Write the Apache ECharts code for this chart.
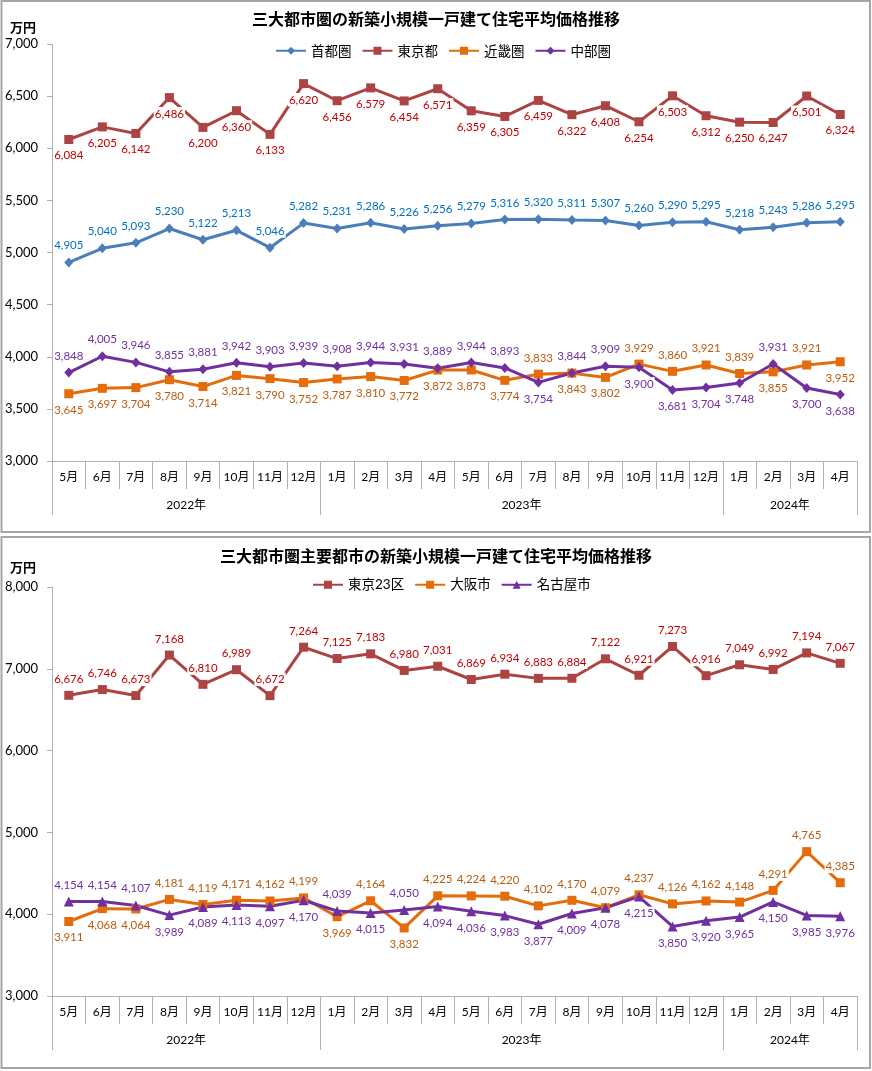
<!DOCTYPE html>
<html>
<head>
<meta charset="utf-8">
<script src="https://cdn.jsdelivr.net/npm/echarts@6/dist/echarts.min.js"></script>
<style>
html,body{margin:0;padding:0;background:#fff;}
#chart{width:872px;height:1071px;}
</style>
</head>
<body>
<div id="chart"></div>
<script>
// ---- data ----
const months = ['5月','6月','7月','8月','9月','10月','11月','12月','1月','2月','3月','4月','5月','6月','7月','8月','9月','10月','11月','12月','1月','2月','3月','4月'];
const years = ['2022年','2023年','2024年'];
const yearSpans = [8, 12, 4];

const titleTop = '三大都市圏の新築小規模一戸建て住宅平均価格推移';
const titleBottom = '三大都市圏主要都市の新築小規模一戸建て住宅平均価格推移';
const unitLabel = '万円';

const shutoken = [4905,5040,5093,5230,5122,5213,5046,5282,5231,5286,5226,5256,5279,5316,5320,5311,5307,5260,5290,5295,5218,5243,5286,5295];
const tokyoto  = [6084,6205,6142,6486,6200,6360,6133,6620,6456,6579,6454,6571,6359,6305,6459,6322,6408,6254,6503,6312,6250,6247,6501,6324];
const kinki    = [3645,3697,3704,3780,3714,3821,3790,3752,3787,3810,3772,3872,3873,3774,3833,3843,3802,3929,3860,3921,3839,3855,3921,3952];
const chubu    = [3848,4005,3946,3855,3881,3942,3903,3939,3908,3944,3931,3889,3944,3893,3754,3844,3909,3900,3681,3704,3748,3931,3700,3638];

const tokyo23  = [6676,6746,6673,7168,6810,6989,6672,7264,7125,7183,6980,7031,6869,6934,6883,6884,7122,6921,7273,6916,7049,6992,7194,7067];
const osaka    = [3911,4068,4064,4181,4119,4171,4162,4199,3969,4164,3832,4225,4224,4220,4102,4170,4079,4237,4126,4162,4148,4291,4765,4385];
const nagoya   = [4154,4154,4107,3989,4089,4113,4097,4170,4039,4015,4050,4094,4036,3983,3877,4009,4078,4215,3850,3920,3965,4150,3985,3976];

// ---- styles ----
const font = "Lato, 'Noto Sans CJK JP', sans-serif";
const cjk = "'Noto Sans CJK JP', sans-serif";
const axisColor = '#b0b0b0';
const C = {
  blue:'#4a7ebb', red:'#ab4442', orange:'#e46c0a', purple:'#7030a0',
  lblBlue:'#0070c0', lblRed:'#c00000', lblOrange:'#b85c10', lblPurple:'#7030a0'
};

const fmt = v => Number(v).toLocaleString('en-US');

function posAll(arr, p){ return arr.map(() => p); }
function posCompare(a, b){ return a.map((v,i) => v >= b[i] ? 'top' : 'bottom'); }

function makeSeries(name, values, positions, color, lblColor, symbol, size, xi, yi){
  return {
    name, type:'line', xAxisIndex:xi, yAxisIndex:yi,
    symbol, symbolSize:size,
    lineStyle:{width:3, color},
    itemStyle:{color},
    emphasis:{disabled:true},
    animation:false,
    data: values.map((v,i) => ({
      value:v,
      label:{position:positions[i]}
    })),
    label:{
      show:true, distance:5, color:lblColor, fontSize:11.5, fontFamily:font,
      backgroundColor:'#fff', padding:[1,1],
      formatter:p => fmt(p.value)
    }
  };
}

const bounds = [0];
yearSpans.forEach(s => bounds.push(bounds[bounds.length-1] + s));
const centers = years.map((y,i) => (bounds[i] + bounds[i+1]) / 2);

function monthAxis(gridIndex){
  return {
    type:'category', gridIndex, data:months, position:'bottom', boundaryGap:true,
    axisLine:{onZero:false, lineStyle:{color:axisColor, width:1}},
    axisTick:{show:true, interval:0, length:28, lineStyle:{color:axisColor}},
    axisLabel:{interval:0, margin:10, color:'#000', fontSize:12, fontFamily:font},
    splitLine:{show:false}
  };
}
function yearAxis(gridIndex){
  return {
    type:'value', gridIndex, min:0, max:months.length, position:'bottom',
    axisLine:{show:false, onZero:false},
    splitLine:{show:false},
    axisTick:{show:true, customValues:bounds, length:54, lineStyle:{color:axisColor}},
    axisLabel:{show:true, customValues:centers, margin:38, color:'#000', fontSize:12, fontFamily:font,
      formatter: v => { const k = centers.indexOf(v); return k >= 0 ? years[k] : ''; }}
  };
}
function valAxis(gridIndex, min, max, interval){
  return {
    type:'value', gridIndex, min, max, interval,
    axisLine:{show:true, onZero:false, lineStyle:{color:axisColor}},
    axisTick:{show:true, length:5, lineStyle:{color:axisColor}},
    splitLine:{show:false},
    axisLabel:{margin:14, color:'#000', fontSize:13, fontFamily:font, formatter:fmt}
  };
}

const kinkiPos = posCompare(kinki, chubu);
kinkiPos[kinkiPos.length-1] = 'bottom';

const option = {
  animation:false,
  backgroundColor:'#fff',
  title:[
    {text:titleTop, left:'center', top:11, padding:0,
     textStyle:{fontSize:16, fontWeight:'bold', color:'#000', fontFamily:cjk}},
    {text:titleBottom, left:'center', top:548, padding:0,
     textStyle:{fontSize:16, fontWeight:'bold', color:'#000', fontFamily:cjk}}
  ],
  legend:[
    {data:['首都圏','東京都','近畿圏','中部圏'], left:275, top:44, padding:0,
     itemWidth:30, itemHeight:10, itemGap:10, textStyle:{fontSize:13.5, fontFamily:cjk, color:'#000'}},
    {data:['東京23区','大阪市','名古屋市'], left:312, top:578, padding:0,
     itemWidth:30, itemHeight:10, itemGap:10, textStyle:{fontSize:13.5, fontFamily:font, color:'#000'}}
  ],
  grid:[
    {left:52, right:15, top:44, height:417, containLabel:false},
    {left:52, right:15, top:587, height:409, containLabel:false}
  ],
  xAxis:[monthAxis(0), yearAxis(0), monthAxis(1), yearAxis(1)],
  yAxis:[valAxis(0,3000,7000,500), valAxis(1,3000,8000,1000)],
  graphic:[
    {type:'rect', shape:{x:1.5, y:1, width:868.5, height:531}, style:{fill:null, stroke:'#a6a6a6', lineWidth:2}, silent:true},
    {type:'rect', shape:{x:1.5, y:537, width:868.5, height:531}, style:{fill:null, stroke:'#a6a6a6', lineWidth:2}, silent:true},
    {type:'text', x:10, y:27, style:{text:unitLabel, font:"bold 13px 'Noto Sans CJK JP'", fill:'#000', textVerticalAlign:'middle', verticalAlign:'middle'}, silent:true},
    {type:'text', x:10, y:567, style:{text:unitLabel, font:"bold 13px 'Noto Sans CJK JP'", fill:'#000', textVerticalAlign:'middle', verticalAlign:'middle'}, silent:true}
  ],
  series:[
    makeSeries('首都圏', shutoken, posAll(shutoken,'top'), C.blue, C.lblBlue, 'diamond', [9,10], 0, 0),
    makeSeries('東京都', tokyoto, posAll(tokyoto,'bottom'), C.red, C.lblRed, 'rect', 9, 0, 0),
    makeSeries('近畿圏', kinki, kinkiPos, C.orange, C.lblOrange, 'rect', 9, 0, 0),
    makeSeries('中部圏', chubu, posCompare(chubu, kinki), C.purple, C.lblPurple, 'diamond', [9,10], 0, 0),
    makeSeries('東京23区', tokyo23, posAll(tokyo23,'top'), C.red, C.lblRed, 'rect', 9, 2, 1),
    makeSeries('大阪市', osaka, posCompare(osaka, nagoya), C.orange, C.lblOrange, 'rect', 9, 2, 1),
    makeSeries('名古屋市', nagoya, posCompare(nagoya, osaka), C.purple, C.lblPurple, 'triangle', 10, 2, 1)
  ]
};

const chart = echarts.init(document.getElementById('chart'), null, {renderer:'canvas'});
chart.setOption(option);
</script>
</body>
</html>
